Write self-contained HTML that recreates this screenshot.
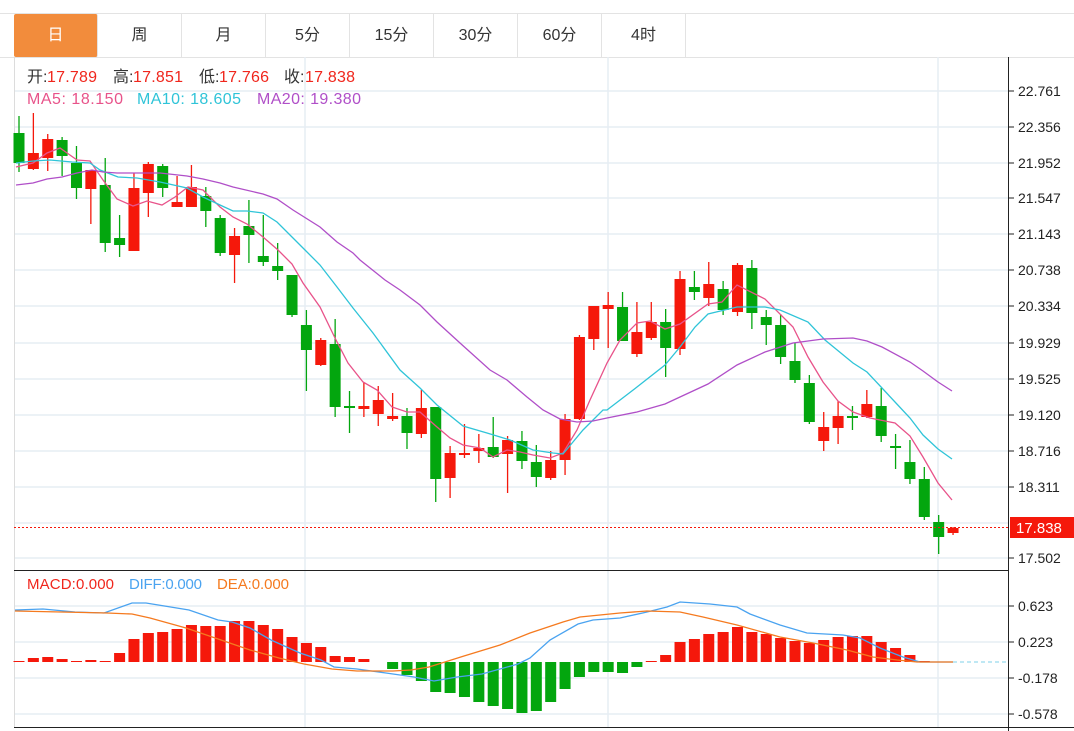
<!DOCTYPE html>
<html><head><meta charset="utf-8"><style>
html,body{margin:0;padding:0;background:#fff;}
body{width:1074px;height:731px;overflow:hidden;position:relative;font-family:"Liberation Sans","Noto Sans CJK SC",sans-serif;}
.tabs{position:absolute;left:0;top:13px;width:1074px;height:43px;border-top:1px solid #e3e3e3;border-bottom:1px solid #e3e3e3;}
.tab{position:absolute;top:0;width:83px;height:43px;border-right:1px solid #e3e3e3;text-align:center;line-height:43px;font-size:16px;color:#333;}
.tab.on{background:#f28c3c;color:#fff;border-radius:2px;}
svg{position:absolute;left:0;top:0;}
</style></head><body>
<div class="tabs">
<div class="tab on" style="left:14px">日</div>
<div class="tab" style="left:98px">周</div>
<div class="tab" style="left:182px">月</div>
<div class="tab" style="left:266px">5分</div>
<div class="tab" style="left:350px">15分</div>
<div class="tab" style="left:434px">30分</div>
<div class="tab" style="left:518px">60分</div>
<div class="tab" style="left:602px">4时</div>
</div>
<svg id="s" width="1074" height="731" style="top:0" font-family="Liberation Sans, Noto Sans CJK SC, sans-serif">
<g id="grid" stroke="#e6edf3" stroke-width="1.5"></g>
<line x1="14.5" y1="57" x2="14.5" y2="728" stroke="#dcdcdc"/>
<line x1="14" y1="570.5" x2="1008" y2="570.5" stroke="#222"/>
<line x1="14" y1="727.5" x2="1074" y2="727.5" stroke="#222"/>
<line x1="1008.5" y1="57" x2="1008.5" y2="731" stroke="#222"/>
<g id="candles"></g>
<g id="ma" fill="none" stroke-width="1.3"></g>
<g id="macd"></g>
<line x1="14" y1="527.5" x2="1008" y2="527.5" stroke="#f5180b" stroke-dasharray="2,2"/>
<line x1="953" y1="662" x2="1006" y2="662" stroke="#7fd0ea" stroke-dasharray="4,3"/>
<g id="ticks" font-size="14" fill="#222"></g>
<rect x="1010" y="517" width="64" height="21" fill="#f5180b"/>
<text x="1016" y="533" font-size="15" fill="#fff">17.838</text>
<g font-size="16">
<text x="27" y="82" fill="#333">开:</text><text x="47" y="82" fill="#f0261c" textLength="50">17.789</text>
<text x="113" y="82" fill="#333">高:</text><text x="133" y="82" fill="#f0261c" textLength="50">17.851</text>
<text x="199" y="82" fill="#333">低:</text><text x="219" y="82" fill="#f0261c" textLength="50">17.766</text>
<text x="284" y="82" fill="#333">收:</text><text x="305" y="82" fill="#f0261c" textLength="50">17.838</text>
<text x="27" y="104" fill="#e8538a" textLength="96">MA5: 18.150</text>
<text x="137" y="104" fill="#2fc4d8" textLength="104">MA10: 18.605</text>
<text x="257" y="104" fill="#b04fc8" textLength="104">MA20: 19.380</text>
</g>
<g font-size="15">
<text x="27" y="589" fill="#f0261c" textLength="87">MACD:0.000</text>
<text x="129" y="589" fill="#4aa3f0" textLength="73">DIFF:0.000</text>
<text x="217" y="589" fill="#f57a1f" textLength="72">DEA:0.000</text>
</g>
</svg>
<script>
var NS="http://www.w3.org/2000/svg";
function el(p,t,a){var e=document.createElementNS(NS,t);for(var k in a)e.setAttribute(k,a[k]);document.getElementById(p).appendChild(e);return e;}
var gy=[91,127,163,198,234,270,306,343,379,415,451,487,523,558,606,642,678,714];
gy.forEach(function(y){el("grid","line",{x1:14,x2:1008,y1:y,y2:y});});
[305,608,938].forEach(function(x){el("grid","line",{x1:x,x2:x,y1:57,y2:727});});
var tl=["22.761","22.356","21.952","21.547","21.143","20.738","20.334","19.929","19.525","19.120","18.716","18.311","17.914","17.502"];
tl.forEach(function(t,i){if(i==12)return;var y=gy[i];el("ticks","line",{x1:1009,x2:1014,y1:y,y2:y,stroke:"#222"});var e=el("ticks","text",{x:1018,y:y+5});e.textContent=t;});
["0.623","0.223","-0.178","-0.578"].forEach(function(t,i){var y=gy[14+i];el("ticks","line",{x1:1009,x2:1014,y1:y,y2:y,stroke:"#222"});var e=el("ticks","text",{x:1018,y:y+5});e.textContent=t;});
var C=[[133,163,116,172,0],[153,169,113,170,1],[139,158,134,171,1],[140,156,137,176,0],[163,188,146,199,0],[170,189,170,224,1],[185,243,158,252,0],[238,245,215,257,0],[188,251,173,251,1],[164,193,162,217,1],[166,188,164,197,0],[202,207,176,207,1],[187,207,165,207,1],[196,211,187,227,0],[218,253,215,256,0],[236,255,228,283,1],[226,235,200,263,0],[256,262,215,266,0],[266,271,243,280,0],[275,315,275,317,0],
[325,350,310,391,0],[340,365,338,366,1],[344,407,319,417,0],[406,408,391,433,0],[406,409,382,417,1],[400,414,386,426,1],[416,419,393,421,1],[416,433,408,449,0],[408,434,390,438,1],[407,479,407,502,0],[453,478,446,498,1],[453,455,424,458,1],[448,451,434,463,1],[447,457,417,458,0],[440,454,436,493,1],[441,461,431,469,0],[462,477,445,487,0],[460,478,451,480,1],[419,460,414,475,1],[337,419,335,420,1],
[306,339,306,350,1],[305,309,292,348,1],[307,341,292,341,0],[332,354,302,357,1],[322,338,302,340,1],[322,348,309,377,0],[279,349,271,355,1],[287,292,271,300,0],[284,298,262,306,1],[289,310,281,315,0],[265,312,263,316,1],[268,313,260,329,0],[317,325,310,345,0],[325,357,314,364,0],[361,380,343,383,0],[383,422,375,424,0],[427,441,412,451,1],[416,428,401,444,1],[416,417,406,430,0],[404,417,390,418,1],[406,436,388,442,0],[446,448,434,469,0],[462,479,440,484,0],[479,517,467,520,0],[522,537,515,554,0],[528,533,527,535,1]];
function X(i){return 19+i*14.37;}
C.forEach(function(c,i){var x=X(i),col=c[4]?"#f5180b":"#03a60e";
el("candles","line",{x1:x,x2:x,y1:c[2],y2:c[3],stroke:col,"stroke-width":1.3});
el("candles","rect",{x:x-5.5,y:c[0],width:11,height:Math.max(2,c[1]-c[0]),fill:col});});
function pl(pts,col,g){el(g,"polyline",{points:pts,stroke:col,fill:"none","stroke-width":1.3});}
pl("16,167 33,163 47,153 60,148 77,160 90,161 103,180 117,199 133,206 147,201 162,205 175,197 188,187 203,190 220,207 233,217 247,224 263,237 278,250 292,264 303,283 320,307 335,338 348,363 363,382 377,390 392,407 407,412 420,412 437,427 450,438 463,445 480,448 493,457 507,450 520,452 533,455 550,458 563,453 577,430 590,400 607,363 620,340 637,323 650,321 665,329 680,324 708,304 722,302 737,285 765,299 793,327 808,357 823,382 838,401 853,412 870,418 895,423 910,436 923,457 938,483 952,500","#e8538a","ma");
pl("16,163 33,161 50,160 72,162 90,163 100,170 118,177 137,178 160,182 187,188 203,197 220,205 233,211 247,211 263,213 277,222 292,237 305,250 320,265 337,287 353,308 373,333 400,370 420,388 437,405 463,426 487,433 510,440 533,450 553,453 563,454 583,430 603,410 607,410 637,387 665,365 680,347 695,327 708,314 737,307 765,307 780,310 808,322 825,340 853,363 867,372 882,388 895,402 910,418 923,435 938,449 952,459","#2fc4d8","ma");
pl("16,185 33,183 47,179 62,177 77,173 92,170 103,172 117,173 137,173 160,173 187,176 203,179 220,183 233,187 263,194 277,199 293,210 320,227 337,242 353,253 360,260 385,280 400,290 420,305 437,322 460,343 490,370 507,380 527,397 543,410 560,419 577,422 593,421 607,418 637,412 665,404 680,397 708,384 737,365 765,352 793,343 823,339 853,338 867,341 882,347 910,362 923,371 938,382 952,391","#b04fc8","ma");
var M=[661,658,657,659,661,660,661,653,639,633,632,629,625,626,626,621,621,625,629,637,643,647,656,657,659,662,669,675,681,692,693,697,702,706,709,713,711,702,689,677,672,672,673,667,661,655,642,639,634,632,627,632,634,638,641,643,640,637,636,636,642,648,655,661,662,662];
M.forEach(function(y,i){var x=X(i);if(Math.abs(y-662)<0.5)return;var up=y<662;
el("macd","rect",{x:x-5.5,y:Math.min(y,662),width:11,height:Math.max(1,Math.abs(662-y)),fill:up?"#f5180b":"#03a60e"});});
pl("15,610 43,609 75,612 104,613 132,603 146,603 189,610 218,620 232,622 250,628 271,640 300,653 321,660 334,667 357,669 386,673 414,677 434,681 457,677 482,674 518,664 530,658 550,640 578,624 593,620 620,618 647,612 667,607 680,602 710,604 737,607 750,614 780,625 807,633 843,635 860,638 880,648 903,657 920,662 953,662","#4aa3f0","macd");
pl("15,611 107,613 132,614 150,618 186,628 221,640 250,650 279,658 304,664 332,669 357,671 393,671 411,670 429,667 464,656 500,645 530,633 563,622 580,617 620,613 647,611 680,612 703,617 737,625 780,637 813,643 847,650 873,657 897,660 917,662 953,662","#f57a1f","macd");
</script>
</body></html>
